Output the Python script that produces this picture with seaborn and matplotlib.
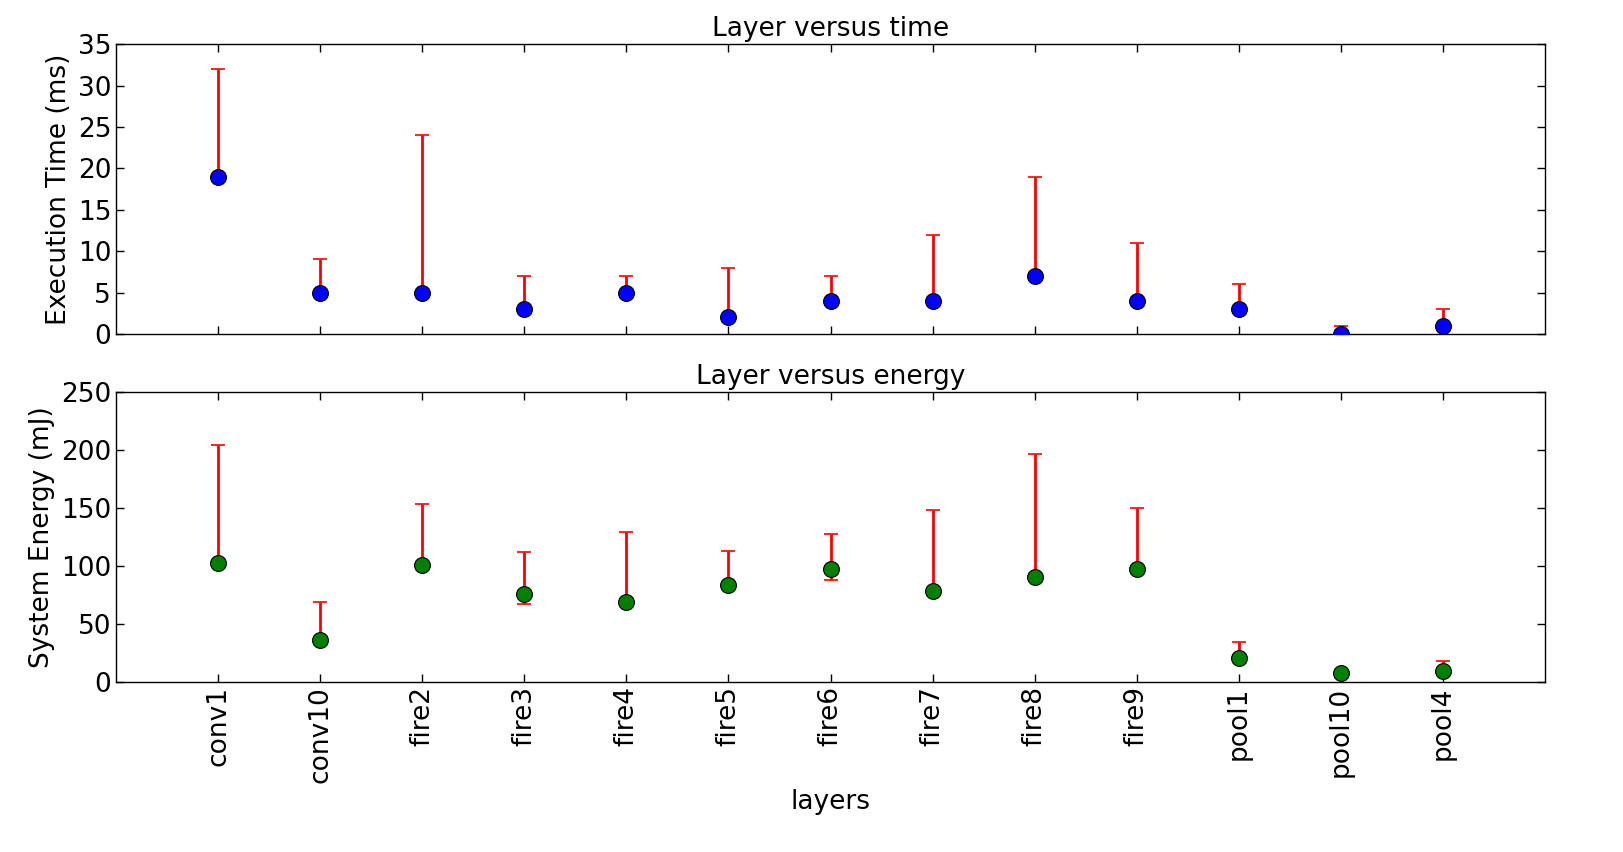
import numpy as np
import pandas as pd
import matplotlib
matplotlib.use('Agg')
import matplotlib.pyplot as plt
import seaborn as sns

# --- 데이터 ---
layers = ['conv1', 'conv10', 'fire2', 'fire3', 'fire4', 'fire5', 'fire6',
          'fire7', 'fire8', 'fire9', 'pool1', 'pool10', 'pool4']

time_mean = [19, 5, 5, 3, 5, 2, 4, 4, 7, 4, 3, 0, 1]
time_min = [19, 5, 5, 3, 5, 2, 4, 4, 7, 4, 3, 0, 1]
time_max = [32, 9, 24, 7, 7, 8, 7, 12, 19, 11, 6, 1, 3]

energy_mean = [102, 36, 101, 76, 69, 83, 97, 78, 90, 97, 20, 7, 9]
energy_min = [102, 36, 101, 67, 69, 83, 88, 78, 90, 97, 20, 7, 9]
energy_max = [204, 69, 153, 112, 129, 113, 127, 148, 196, 150, 34, 8, 18]

df = pd.DataFrame({'layer': layers,
                   'time': time_mean, 'time_lo': time_min, 'time_hi': time_max,
                   'energy': energy_mean, 'energy_lo': energy_min, 'energy_hi': energy_max})

sns.set_style('ticks')
plt.rcParams['font.family'] = ['DejaVu Sans']
plt.rcParams['xtick.direction'] = 'in'
plt.rcParams['ytick.direction'] = 'in'
plt.rcParams['text.color'] = 'black'
plt.rcParams['axes.labelcolor'] = 'black'
plt.rcParams['axes.edgecolor'] = 'black'
plt.rcParams['xtick.color'] = 'black'
plt.rcParams['ytick.color'] = 'black'

fig, (ax1, ax2) = plt.subplots(2, 1, figsize=(16.23, 8.52), dpi=100, sharex=True)
fig.subplots_adjust(left=0.0715, right=0.952, top=0.948, bottom=0.2, hspace=0.2)

x = np.arange(len(layers))

def draw(ax, col, color, title, ylabel):
    lo = df[col] - df[col + '_lo']
    hi = df[col + '_hi'] - df[col]
    ax.errorbar(x, df[col], yerr=[lo, hi], fmt='none', ecolor='red',
                elinewidth=2, capsize=5, capthick=1.2, zorder=2)
    sns.scatterplot(data=df, x=x, y=col, ax=ax, color=color, s=130,
                    edgecolor='black', linewidth=0.8, zorder=3)
    ax.set_title(title, fontsize=19, color='black')
    ax.set_ylabel(ylabel, fontsize=19)
    ax.tick_params(labelsize=19, top=True, right=True, length=6, width=1)
    for s in ax.spines.values():
        s.set_linewidth(1)

draw(ax1, 'time', 'blue', 'Layer versus time', 'Execution Time (ms)')
draw(ax2, 'energy', 'green', 'Layer versus energy', 'System Energy (mJ)')

ax1.set_ylim(0, 35)
ax1.set_yticks(range(0, 36, 5))
ax2.set_ylim(0, 250)
ax2.set_yticks(range(0, 251, 50))

ax2.set_xlim(-1, 13)
ax2.set_xticks(x)
ax2.set_xticklabels(layers, rotation=90)
ax2.set_xlabel('layers', fontsize=19)
ax1.set_xlabel('')

plt.savefig('out.png', dpi=100)
